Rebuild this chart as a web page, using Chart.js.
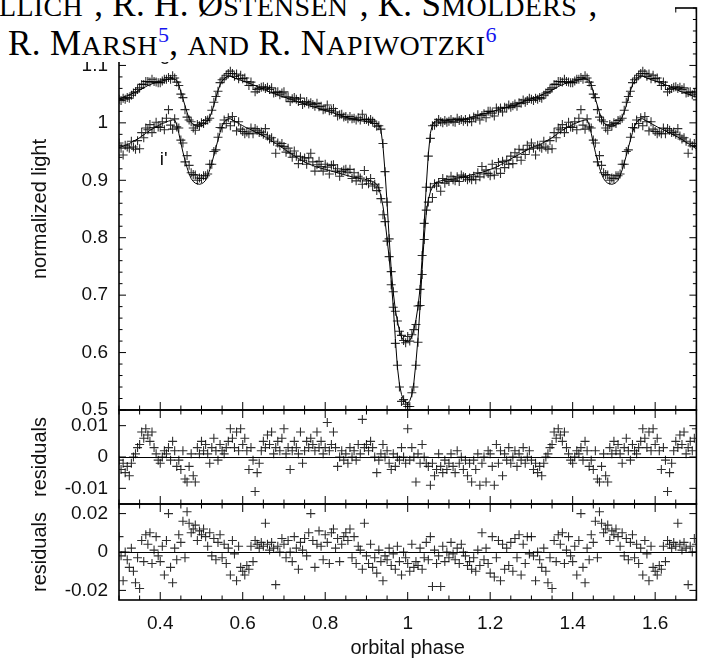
<!DOCTYPE html>
<html><head><meta charset="utf-8">
<script src="https://cdn.jsdelivr.net/npm/chart.js@4.4.1/dist/chart.umd.min.js"></script>
<style>
html,body{margin:0;padding:0;background:#fff;}
#wrap{position:relative;width:702px;height:658px;overflow:hidden;background:#fff;}
#c{display:block;}
#hdr{position:absolute;left:0;top:0;width:675px;height:62px;background:#fff;overflow:hidden;font-family:'Liberation Serif','Times New Roman',serif;color:#000;}
.ln{position:absolute;white-space:nowrap;font-size:35px;line-height:35px;}
.sc{font-size:28px;}
.sup{font-size:22px;color:#1515f0;position:relative;top:-13px;}
.l1 .sup{top:-18px;}
</style></head>
<body>
<div id="wrap">
<canvas id="c" width="702" height="658"></canvas>
<div id="hdr">
<div class="ln l1" style="left:-1px;top:-13px;letter-spacing:0.3px"><span class="sc">LLICH</span><span class="sup">2</span>, R. H. Ø<span class="sc">STENSEN</span><span class="sup">3</span>, K. S<span class="sc">MOLDERS</span><span class="sup">3</span>,</div>
<div class="ln" style="left:8px;top:26px;letter-spacing:0.4px">R. M<span class="sc">ARSH</span><span class="sup">5</span>, <span class="sc">AND</span> R. N<span class="sc">APIWOTZKI</span><span class="sup">6</span></div>
</div>
</div>
<script>
// ---- one orbital cycle of phase-folded data (plotted again one cycle later up to phase 1.7) ----
const phase = [
0.300,0.305,0.310,0.315,0.320,0.325,0.330,0.335,0.340,0.345,
0.350,0.355,0.360,0.365,0.370,0.375,0.380,0.385,0.390,0.395,
0.400,0.405,0.410,0.415,0.420,0.425,0.430,0.435,0.440,0.445,
0.450,0.455,0.460,0.465,0.470,0.475,0.480,0.485,0.490,0.495,
0.500,0.505,0.510,0.515,0.520,0.525,0.530,0.535,0.540,0.545,
0.550,0.555,0.560,0.565,0.570,0.575,0.580,0.585,0.590,0.595,
0.600,0.605,0.610,0.615,0.620,0.625,0.630,0.635,0.640,0.645,
0.650,0.655,0.660,0.665,0.670,0.675,0.680,0.685,0.690,0.695,
0.700,0.705,0.710,0.715,0.720,0.725,0.730,0.735,0.740,0.745,
0.750,0.755,0.760,0.765,0.770,0.775,0.780,0.785,0.790,0.795,
0.800,0.805,0.810,0.815,0.820,0.825,0.830,0.835,0.840,0.845,
0.850,0.855,0.860,0.865,0.870,0.875,0.880,0.885,0.890,0.895,
0.900,0.905,0.910,0.915,0.920,0.925,0.930,0.935,0.940,0.945,
0.950,0.955,0.960,0.965,0.970,0.975,0.980,0.985,0.990,0.995,
1.000,1.005,1.010,1.015,1.020,1.025,1.030,1.035,1.040,1.045,
1.050,1.055,1.060,1.065,1.070,1.075,1.080,1.085,1.090,1.095,
1.100,1.105,1.110,1.115,1.120,1.125,1.130,1.135,1.140,1.145,
1.150,1.155,1.160,1.165,1.170,1.175,1.180,1.185,1.190,1.195,
1.200,1.205,1.210,1.215,1.220,1.225,1.230,1.235,1.240,1.245,
1.250,1.255,1.260,1.265,1.270,1.275,1.280,1.285,1.290,1.295];

// model light curve, upper band (g')
const gModel = [
1.042,1.043,1.045,1.046,1.047,1.049,1.050,1.052,1.053,1.055,
1.057,1.059,1.061,1.063,1.065,1.066,1.068,1.069,1.070,1.071,
1.072,1.073,1.074,1.075,1.076,1.077,1.077,1.076,1.074,1.066,
1.054,1.042,1.030,1.018,1.008,1.001,0.997,0.995,0.994,0.994,
0.995,0.997,1.000,1.004,1.010,1.019,1.030,1.044,1.056,1.066,
1.073,1.077,1.080,1.081,1.081,1.080,1.078,1.077,1.075,1.074,
1.073,1.072,1.070,1.069,1.068,1.066,1.065,1.063,1.062,1.060,
1.058,1.057,1.055,1.054,1.053,1.051,1.050,1.049,1.047,1.046,
1.045,1.044,1.042,1.041,1.040,1.039,1.038,1.036,1.035,1.034,
1.033,1.032,1.030,1.029,1.028,1.027,1.026,1.025,1.024,1.022,
1.021,1.020,1.019,1.018,1.017,1.016,1.015,1.014,1.013,1.011,
1.010,1.009,1.008,1.007,1.006,1.006,1.005,1.004,1.003,1.003,
1.002,1.001,1.001,1.000,0.999,0.999,0.996,0.988,0.960,0.915,
0.860,0.800,0.745,0.705,0.675,0.655,0.638,0.627,0.621,0.619,
0.619,0.621,0.628,0.640,0.657,0.680,0.712,0.765,0.825,0.890,
0.945,0.982,0.997,1.002,1.004,1.005,1.005,1.005,1.005,1.005,
1.005,1.005,1.005,1.006,1.006,1.006,1.006,1.007,1.007,1.008,
1.009,1.010,1.011,1.012,1.013,1.014,1.015,1.016,1.017,1.018,
1.019,1.020,1.021,1.022,1.023,1.024,1.025,1.026,1.027,1.028,
1.029,1.030,1.031,1.032,1.034,1.035,1.037,1.038,1.039,1.041];

// model light curve, lower band (i')
const iModel = [
0.957,0.958,0.959,0.961,0.962,0.964,0.966,0.968,0.970,0.972,
0.974,0.977,0.979,0.982,0.984,0.987,0.989,0.991,0.993,0.995,
0.997,0.999,1.000,1.002,1.003,1.004,1.005,1.005,0.997,0.982,
0.965,0.949,0.935,0.922,0.911,0.903,0.898,0.895,0.894,0.893,
0.894,0.896,0.900,0.908,0.918,0.930,0.943,0.957,0.970,0.983,
0.994,1.001,1.005,1.007,1.007,1.005,1.003,1.001,0.999,0.997,
0.995,0.993,0.991,0.990,0.988,0.986,0.984,0.983,0.981,0.979,
0.977,0.975,0.973,0.971,0.969,0.966,0.964,0.962,0.960,0.957,
0.955,0.952,0.950,0.947,0.945,0.943,0.940,0.938,0.936,0.934,
0.932,0.930,0.929,0.927,0.926,0.924,0.923,0.922,0.921,0.920,
0.919,0.918,0.917,0.916,0.915,0.914,0.913,0.912,0.911,0.910,
0.909,0.908,0.907,0.906,0.905,0.905,0.904,0.903,0.902,0.902,
0.901,0.900,0.899,0.898,0.896,0.893,0.886,0.873,0.855,0.830,
0.798,0.765,0.725,0.680,0.625,0.575,0.545,0.527,0.518,0.513,
0.512,0.516,0.526,0.548,0.583,0.625,0.680,0.745,0.800,0.843,
0.866,0.880,0.888,0.893,0.896,0.898,0.899,0.900,0.900,0.901,
0.901,0.902,0.902,0.903,0.904,0.904,0.905,0.906,0.907,0.908,
0.909,0.910,0.910,0.911,0.912,0.913,0.914,0.915,0.916,0.918,
0.919,0.920,0.922,0.923,0.925,0.927,0.929,0.931,0.933,0.935,
0.937,0.939,0.941,0.943,0.945,0.947,0.949,0.951,0.953,0.955];

// residuals (observed - model), upper band
const gRes = [
-0.001,-0.004,-0.002,-0.005,-0.003,-0.006,-0.002,0.000,0.001,0.003,
0.004,0.008,0.006,0.009,0.007,0.005,0.008,0.003,0.001,-0.001,
-0.002,0.000,0.002,0.001,0.003,-0.001,0.005,0.002,-0.003,-0.001,
-0.004,0.002,-0.007,-0.008,-0.003,0.001,-0.006,-0.008,0.003,0.001,
0.005,0.002,0.004,0.001,-0.002,0.003,0.006,0.002,-0.001,0.004,
0.002,0.001,0.003,0.005,0.009,0.006,0.003,0.008,0.002,0.009,
0.004,0.006,0.002,-0.004,0.003,-0.001,-0.011,-0.005,-0.002,0.002,
0.005,0.003,0.007,0.004,0.008,0.001,0.003,0.005,0.002,0.006,
0.009,0.001,0.003,-0.004,0.002,0.005,0.003,0.001,0.008,-0.002,
0.002,0.005,0.003,0.006,0.004,0.002,0.008,0.003,0.005,0.001,
0.003,0.011,0.002,0.004,0.008,0.003,-0.003,0.000,0.002,-0.001,
0.001,-0.002,0.003,0.000,0.002,-0.001,0.004,0.001,0.012,0.003,
0.004,0.002,0.005,0.003,0.000,-0.005,-0.001,0.001,0.004,0.000,
0.002,-0.002,-0.004,0.001,-0.003,0.000,-0.001,0.003,0.000,-0.002,
0.009,-0.001,0.003,0.000,-0.008,0.001,-0.002,0.004,0.000,-0.002,
-0.003,-0.009,-0.002,-0.006,-0.004,0.001,-0.003,-0.005,-0.001,-0.004,
-0.002,0.001,-0.003,-0.005,0.002,-0.002,0.000,-0.004,-0.001,-0.006,
-0.002,-0.008,-0.001,-0.004,0.001,-0.009,-0.002,0.000,-0.008,0.002,
0.001,-0.003,-0.009,0.004,-0.002,0.002,-0.006,0.001,-0.001,0.003,
-0.002,0.000,0.002,-0.003,0.001,-0.001,0.003,-0.002,0.000,0.002];

// residuals (observed - model), lower band i'
const iRes = [
0.008,-0.002,-0.015,0.000,-0.004,-0.008,0.002,-0.010,-0.016,-0.003,
-0.019,0.006,-0.005,0.009,0.004,0.010,-0.006,0.001,0.008,-0.002,
-0.005,0.003,-0.012,0.006,0.020,-0.008,-0.016,0.002,-0.004,0.009,
0.005,0.016,-0.003,0.021,0.015,0.010,0.012,0.014,0.006,0.011,
0.009,0.012,0.008,0.003,0.010,-0.002,0.007,-0.004,0.005,0.009,
-0.003,0.004,-0.006,0.002,-0.012,0.006,-0.001,-0.015,0.003,-0.008,
-0.010,-0.012,-0.007,-0.009,0.003,-0.005,0.006,0.004,0.002,0.005,
0.003,0.015,0.004,0.001,0.005,0.002,-0.017,0.003,0.000,0.007,
0.004,-0.003,0.006,0.000,-0.005,0.008,0.002,-0.009,0.005,0.001,
0.007,-0.002,0.010,0.020,0.006,-0.008,0.004,0.011,0.003,-0.004,
0.009,0.005,-0.006,0.010,0.012,0.002,0.007,-0.005,0.004,0.008,
0.010,0.006,0.012,-0.003,0.008,-0.006,0.003,0.001,-0.009,0.015,
-0.002,-0.006,0.004,-0.008,-0.003,-0.011,0.001,-0.005,-0.015,-0.002,
-0.004,0.002,-0.007,-0.001,-0.009,0.003,-0.005,-0.012,0.000,-0.003,
-0.006,-0.010,0.004,-0.008,-0.005,-0.007,0.002,-0.009,-0.003,0.005,
-0.004,0.008,-0.018,0.001,-0.006,-0.002,-0.018,0.003,-0.005,0.000,
-0.003,0.005,-0.001,-0.004,0.002,-0.006,0.004,0.000,-0.002,-0.007,
-0.005,-0.009,-0.003,-0.010,0.001,-0.007,0.010,-0.004,0.002,-0.006,
-0.011,0.008,-0.013,-0.003,0.006,-0.015,0.004,-0.009,0.002,-0.007,
0.005,-0.010,0.007,-0.003,0.009,-0.012,0.004,-0.006,0.008,-0.001];

// tick values / labels
const xTicks = [0.4, 0.6, 0.8, 1, 1.2, 1.4, 1.6];
const mainTicks = [0.5, 0.6, 0.7, 0.8, 0.9, 1, 1.1];
const res1Ticks = [-0.01, 0, 0.01];
const res2Ticks = [-0.02, 0, 0.02];
const curveLabels = ["g'", "i'"];
const labelAt = [[0.399, 1.1094], [0.399, 0.9266]];

// ---- build plotted tables ----
const CYCLE_END = 0.7; // points repeated one cycle later to fill phase 1.3 - 1.7
function folded(values) {
  const pts = phase.map((p, i) => ({x: p, y: values[i]}));
  phase.forEach((p, i) => { if (p <= CYCLE_END + 1e-9) pts.push({x: p + 1, y: values[i]}); });
  return pts;
}
const gObs = gModel.map((m, i) => m + gRes[i]);
const iObs = iModel.map((m, i) => m + iRes[i]);

const FONT = "'Liberation Sans', Arial, Helvetica, sans-serif";
const markerColor = 'rgba(0,0,0,0.82)';
function markers(data, yAxisID) {
  return {type: 'scatter', data, yAxisID, showLine: false, pointStyle: 'cross', pointRadius: 4.5,
    pointBorderWidth: 1.1, pointBorderColor: markerColor, pointBackgroundColor: markerColor, order: 1, clip: 0};
}
function modelLine(data) {
  return {type: 'scatter', data, yAxisID: 'yMain', showLine: true, pointRadius: 0, borderWidth: 1,
    borderColor: '#000', order: 0, clip: 0};
}

function line(ctx, x1, y1, x2, y2) { ctx.beginPath(); ctx.moveTo(x1, y1); ctx.lineTo(x2, y2); ctx.stroke(); }

const panelDecor = {
  id: 'panelDecor',
  beforeDatasetsDraw(chart) {
    const {ctx} = chart; const x = chart.scales.x;
    ctx.save(); ctx.strokeStyle = '#000'; ctx.lineWidth = 1;
    ['yRes1', 'yRes2'].forEach(id => {
      const y = Math.round(chart.scales[id].getPixelForValue(0)) + 0.5;
      line(ctx, x.left, y, x.right, y);
    });
    ctx.restore();
  },
  afterDatasetsDraw(chart) {
    const {ctx} = chart; const x = chart.scales.x;
    const m = chart.scales.yMain, r1 = chart.scales.yRes1, r2 = chart.scales.yRes2;
    const panels = [m, r1, r2];
    ctx.save();
    ctx.strokeStyle = '#000';
    ctx.lineWidth = 1;
    const xStep = 0.05;
    for (const s of panels) {
      for (let k = Math.ceil(x.min / xStep - 1e-9); k * xStep <= x.max + 1e-9; k++) {
        const v = k * xStep;
        const major = xTicks.some(t => Math.abs(t - v) < 1e-9);
        const len = major ? 8 : 4.5;
        const px = x.getPixelForValue(v);
        line(ctx, px, s.top, px, s.top + len);
        line(ctx, px, s.bottom, px, s.bottom - len);
      }
    }
    const yStep = 0.02;
    for (let k = Math.ceil(m.min / yStep - 1e-9); k * yStep <= m.max + 1e-9; k++) {
      const v = k * yStep;
      const major = mainTicks.some(t => Math.abs(t - v) < 1e-9);
      const len = major ? 7 : 3.5;
      const py = m.getPixelForValue(v);
      line(ctx, x.left, py, x.left + len, py);
      line(ctx, x.right, py, x.right - len, py);
    }
    [[r1, res1Ticks], [r2, res2Ticks]].forEach(([s, ticks]) => {
      ticks.forEach(v => {
        const py = s.getPixelForValue(v);
        line(ctx, x.left, py, x.left + 7, py);
        line(ctx, x.right, py, x.right - 7, py);
      });
    });
    ctx.lineWidth = 1.6;
    panels.forEach(s => ctx.strokeRect(x.left, s.top, x.right - x.left, s.bottom - s.top));
    ctx.fillStyle = '#111';
    ctx.font = '19px ' + FONT;
    ctx.textAlign = 'left'; ctx.textBaseline = 'alphabetic';
    curveLabels.forEach((t, i) => ctx.fillText(t, x.getPixelForValue(labelAt[i][0]), m.getPixelForValue(labelAt[i][1])));
    ctx.restore();
  }
};

function yAxis(min, max, weight, ticks, title) {
  return {
    type: 'linear', position: 'left', stack: 'panels', stackWeight: weight, min, max, offset: false,
    grid: {display: false, drawTicks: false}, border: {display: false},
    ticks: {font: {family: FONT, size: 19}, color: '#111', padding: 11, autoSkip: false, callback: v => String(v)},
    afterBuildTicks: s => { s.ticks = ticks.map(v => ({value: v})); },
    afterFit: s => { s.width = 119; s.paddingTop = 0; s.paddingBottom = 0; },
    title: {display: true, text: title, font: {family: FONT, size: 20}, color: '#111', padding: {top: 28, bottom: 0}}
  };
}

// stacked left axes are laid out bottom-first, so the lowest panel is listed first
new Chart(document.getElementById('c'), {
  type: 'scatter',
  data: {datasets: [
    modelLine(folded(gModel)),
    modelLine(folded(iModel)),
    markers(folded(gObs), 'yMain'),
    markers(folded(iObs), 'yMain'),
    markers(folded(gRes), 'yRes1'),
    markers(folded(iRes), 'yRes2')
  ]},
  options: {
    responsive: false, devicePixelRatio: 1, animation: false,
    layout: {padding: {top: 8, right: 5, bottom: 0, left: 0}},
    plugins: {legend: {display: false}, tooltip: {enabled: false}},
    scales: {
      x: {
        type: 'linear', position: 'bottom', min: 0.3, max: 1.7,
        grid: {display: false, drawTicks: false}, border: {display: false},
        ticks: {font: {family: FONT, size: 19}, color: '#111', padding: 12, maxRotation: 0, autoSkip: false, callback: v => String(v)},
        afterBuildTicks: s => { s.ticks = xTicks.map(v => ({value: v})); },
        afterFit: s => { s.height = 58; s.paddingLeft = 0; s.paddingRight = 0; },
        title: {display: true, text: 'orbital phase', font: {family: FONT, size: 20, lineHeight: 1}, color: '#111', padding: {top: 0, bottom: 0}}
      },
      yRes2: yAxis(-0.025, 0.025, 96, res2Ticks, 'residuals'),
      yRes1: yAxis(-0.015, 0.015, 94, res1Ticks, 'residuals'),
      yMain: yAxis(0.5, 1.2, 402, mainTicks, 'normalized light')
    }
  },
  plugins: [panelDecor]
});
</script>
</body></html>
